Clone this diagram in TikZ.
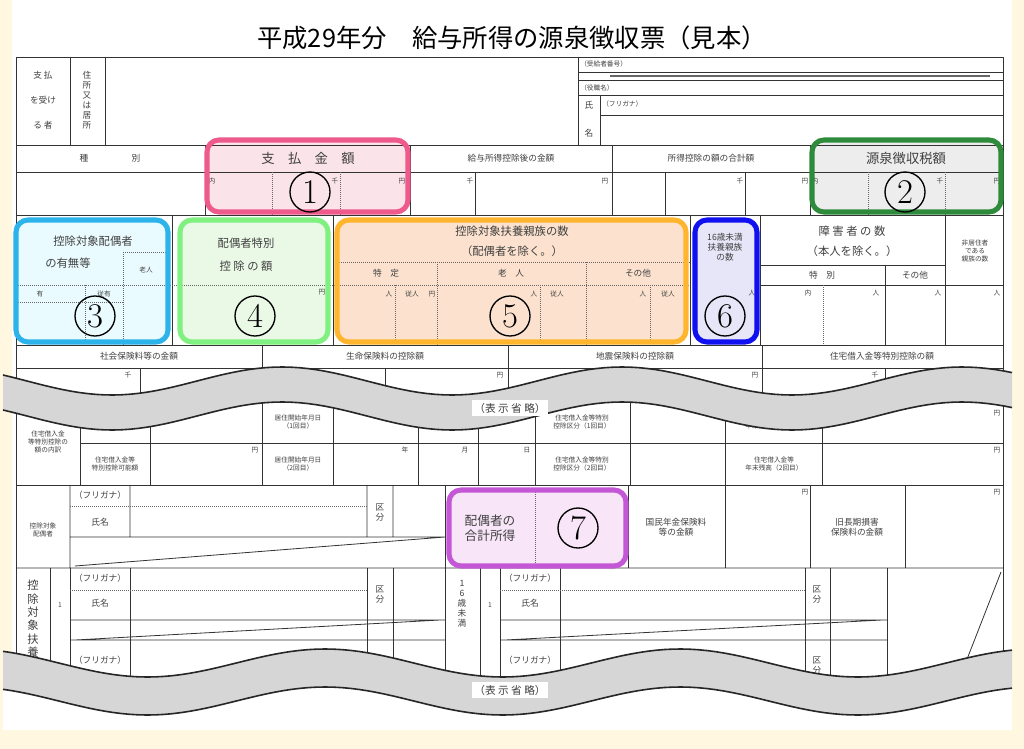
\documentclass[tikz,border=0pt]{standalone}
\usepackage{fontspec}
\newfontfamily\cjk{Noto Sans CJK JP}
\usetikzlibrary{positioning}

\definecolor{cream}{HTML}{FFF7DF}
\definecolor{pinkline}{HTML}{EE5A8C}
\definecolor{pinkfill}{HTML}{FBE3EA}
\definecolor{greenline}{HTML}{2E8B3C}
\definecolor{greenfill}{HTML}{EDEDED}
\definecolor{cyanline}{HTML}{2BB3EA}
\definecolor{cyanfill}{HTML}{EAFBFF}
\definecolor{lgline}{HTML}{80F080}
\definecolor{lgfill}{HTML}{EAF8E6}
\definecolor{orline}{HTML}{FFB52E}
\definecolor{orfill}{HTML}{FCE2CE}
\definecolor{blline}{HTML}{1010F0}
\definecolor{blfill}{HTML}{E6E6F8}
\definecolor{puline}{HTML}{C457D6}
\definecolor{pufill}{HTML}{F8E6F8}
\definecolor{band}{HTML}{D6D6D6}

\begin{document}
\begin{tikzpicture}[
    x = 0.75pt, y = -0.75pt,
    line join=round,
    formline/.style = {line width=0.6pt, black!80},
    dotline/.style = {line width=0.5pt, black!60, densely dotted},
    lbl/.style = {font=\cjk\fontsize{6.5}{7.5}\selectfont, inner sep=0pt, black!75, align=center},
    big/.style = {font=\cjk\fontsize{8.5}{10}\selectfont, inner sep=0pt, black!75, align=center},
    tiny/.style = {font=\cjk\fontsize{5}{6}\selectfont, inner sep=0pt, black!75, align=center},
    hilite/.style = {line width=3.8pt, rounded corners=9},
    numcircle/.style = {circle, draw, line width=1pt, inner sep=0pt, minimum size=30pt,
        font=\fontsize{26}{26}\selectfont},
    bandedge/.style = {line width=1.2pt, black!85}
]

    \useasboundingbox (0,0) rectangle (1024,749);
    \fill[cream] (0,0) rectangle (1024,749);
    \fill[white] (12,0) rectangle (1012,730);

    \node[font=\cjk\fontsize{19}{20}\selectfont] (title) at (512,38)
        {平成29年分\quad 給与所得の源泉徴収票（見本）};

    % highlight fills below the form lines
    \fill[pinkfill, rounded corners=9] (207,140) rectangle (408,212);
    \fill[greenfill, rounded corners=9] (812,140) rectangle (1001,212);
    \fill[cyanfill, rounded corners=9] (16,220) rectangle (168,342);
    \fill[lgfill, rounded corners=9] (180,220) rectangle (328,342);
    \fill[orfill, rounded corners=9] (337,220) rectangle (686,342);
    \fill[blfill, rounded corners=9] (695,220) rectangle (757,342);
    \fill[pufill, rounded corners=9] (449,490) rectangle (626,566);

    % form frame
    \draw[formline] (16,57) rectangle (1003,700);

    % row A
    \draw[formline] (70,57) -- (70,145) (105,57) -- (105,145) (578,57) -- (578,145);
    \draw[formline] (578,72) -- (1003,72) (578,80) -- (1003,80) (578,95) -- (1003,95)
        (600,115) -- (1003,115) (600,95) -- (600,145);
    \draw[line width=1pt, black!60] (610,76) -- (990,76);
    \node[lbl] (pay1) at (43,75) {支 払};
    \node[lbl] (pay2) at (43,100) {を受け};
    \node[lbl] (pay3) at (43,125) {る 者};
    \node[lbl] (addr) at (87,100) {住\\所\\又\\は\\居\\所};
    \node[tiny, anchor=west] (rno) at (580,64) {（受給者番号）};
    \node[tiny, anchor=west] (role) at (580,88) {（役職名）};
    \node[lbl] (nm1) at (589,105) {氏};
    \node[lbl] (nm2) at (589,133) {名};
    \node[tiny, anchor=west] (kana0) at (602,104) {（フリガナ）};

    % row B
    \draw[formline] (16,145) -- (1003,145) (16,172) -- (1003,172) (16,215) -- (1003,215);
    \foreach \xx in {205,410,612,810}
        \draw[formline] (\xx,145) -- (\xx,215);
    \foreach \xx in {475,665,745}
        \draw[formline] (\xx,172) -- (\xx,215);
    \foreach \xx in {272,340,868,945}
        \draw[dotline] (\xx,172) -- (\xx,215);
    \node[lbl] (kind) at (110,158) {種\hspace{5em}別};
    \node[font=\cjk\fontsize{10}{11}\selectfont, black!75] (h1) at (308,158) {支\quad 払\quad 金\quad 額};
    \node[lbl] (h2) at (511,158) {給与所得控除後の金額};
    \node[lbl] (h3) at (711,158) {所得控除の額の合計額};
    \node[font=\cjk\fontsize{10}{11}\selectfont, black!75] (h4) at (906,158) {源泉徴収税額};
    \foreach \xx/\tt in {212/内,335/千,402/円,470/千,605/円,740/千,805/円,815/内,940/千,997/円}
        \node[tiny] at (\xx,181) {\tt};

    % row C
    \draw[formline] (16,345) -- (1003,345);
    \foreach \xx in {172,333,690,760,945}
        \draw[formline] (\xx,215) -- (\xx,345);
    \node[big] (sp1) at (93,241) {控除対象配偶者};
    \node[big] (sp2) at (68,263) {の有無等};
    \draw[dotline] (123,252) -- (170,252) (123,252) -- (123,345) (16,285) -- (690,285)
        (16,302) -- (123,302) (85,285) -- (85,345);
    \node[tiny] at (146,270) {老人};
    \node[tiny] at (40,294) {有};
    \node[tiny] at (104,294) {従有};
    \node[big] (ss1) at (246,243) {配偶者特別};
    \node[big] (ss2) at (246,266) {控\ 除\ の\ 額};
    \node[tiny] at (322,292) {円};
    \node[big] (dep1) at (512,231) {控除対象扶養親族の数};
    \node[big] (dep2) at (512,251) {（配偶者を除く。）};
    \draw[dotline] (335,262) -- (690,262) (437,262) -- (437,345) (586,262) -- (586,345)
        (395,285) -- (395,345) (540,285) -- (540,345) (650,285) -- (650,345);
    \node[lbl] at (386,273) {特\quad 定};
    \node[lbl] at (511,273) {老\quad 人};
    \node[lbl] at (638,273) {その他};
    \foreach \xx/\tt in {389/人,412/従人,432/円,534/人,557/従人,643/人,668/従人}
        \node[tiny] at (\xx,294) {\tt};
    \node[lbl] (u16) at (725,247) {16歳未満\\扶養親族\\の数};
    \node[tiny] at (752,293) {人};
    \node[big] (dis1) at (852,231) {障\ 害\ 者\ の\ 数};
    \node[big] (dis2) at (852,251) {（本人を除く。）};
    \draw[formline] (760,265) -- (945,265) (760,285) -- (1003,285) (885,265) -- (885,345);
    \draw[dotline] (823,285) -- (823,345);
    \node[lbl] at (822,275) {特\quad 別};
    \node[lbl] at (915,275) {その他};
    \foreach \xx/\tt in {808/内,876/人,938/人,997/人}
        \node[tiny] at (\xx,293) {\tt};
    \node[tiny] (nonres) at (975,251) {非居住者\\である\\親族の数};

    % row D
    \draw[formline] (16,368) -- (1003,368);
    \foreach \xx in {262,508,762}
        \draw[formline] (\xx,345) -- (\xx,400);
    \foreach \xx in {140,385,630,885}
        \draw[formline] (\xx,368) -- (\xx,400);
    \node[lbl] at (139,356) {社会保険料等の金額};
    \node[lbl] at (385,356) {生命保険料の控除額};
    \node[lbl] at (635,356) {地震保険料の控除額};
    \node[lbl] at (882,356) {住宅借入金等特別控除の額};
    \foreach \xx/\tt in {128/千,255/円,500/円,755/円,875/千}
        \node[tiny] at (\xx,375) {\tt};

    % row E
    \draw[formline] (16,400) -- (1003,400) (80,443) -- (1003,443) (16,485) -- (1003,485);
    \foreach \xx in {80,150,262,333,535,630,725,822}
        \draw[formline] (\xx,400) -- (\xx,485);
    \foreach \xx in {418,478}
        \draw[formline] (\xx,400) -- (\xx,485);
    \node[tiny] at (48,442) {住宅借入金\\等特別控除の\\額の内訳};
    \node[tiny] at (115,422) {住宅借入金等\\特別控除適用数};
    \node[tiny] at (115,464) {住宅借入金等\\特別控除可能額};
    \node[tiny] at (298,422) {居住開始年月日\\（1回目）};
    \node[tiny] at (298,464) {居住開始年月日\\（2回目）};
    \node[tiny] at (255,450) {円};
    \node[tiny] at (405,450) {年};
    \node[tiny] at (465,450) {月};
    \node[tiny] at (527,450) {日};
    \node[tiny] at (582,422) {住宅借入金等特別\\控除区分（1回目）};
    \node[tiny] at (582,464) {住宅借入金等特別\\控除区分（2回目）};
    \node[tiny] at (774,422) {住宅借入金等\\年末残高（1回目）};
    \node[tiny] at (774,464) {住宅借入金等\\年末残高（2回目）};
    \node[tiny] at (997,413) {円};
    \node[tiny] at (997,450) {円};

    % row F
    \draw[formline] (16,568) -- (1003,568) (70,485) -- (70,568) (130,485) -- (130,537)
        (367,485) -- (367,537) (393,485) -- (393,537) (70,537) -- (445,537) (75,566) -- (445,537);
    \foreach \xx in {445,628,725,810,905}
        \draw[formline] (\xx,485) -- (\xx,568);
    \draw[dotline] (70,506) -- (367,506) (535,490) -- (535,566);
    \node[tiny] at (43,530) {控除対象\\配偶者};
    \node[lbl] at (100,495) {（フリガナ）};
    \node[lbl] at (100,522) {氏名};
    \node[lbl] at (380,512) {区\\分};
    \node[font=\cjk\fontsize{9.5}{11}\selectfont, black!75, align=center] (inc) at (490,528) {配偶者の\\合計所得};
    \node[lbl] at (676,527) {国民年金保険料\\等の金額};
    \node[lbl] at (857,527) {旧長期損害\\保険料の金額};
    \node[tiny] at (805,492) {円};
    \node[tiny] at (997,492) {円};

    % row G
    \foreach \xx in {50,70,130,367,393,445,480,500,560,805,830,887}
        \draw[formline] (\xx,568) -- (\xx,700);
    \draw[formline] (70,620) -- (445,620) (70,640) -- (445,640) (75,640) -- (440,620)
        (500,620) -- (887,620) (500,640) -- (887,640) (505,640) -- (882,620) (1001,572) -- (955,690);
    \draw[dotline] (70,590) -- (367,590) (500,590) -- (805,590);
    \node[big, anchor=north] at (33,580) {控\\除\\対\\象\\扶\\養};
    \node[tiny] at (60,605) {1};
    \node[tiny] at (490,605) {1};
    \node[lbl, anchor=north] at (462,580) {1\\6\\歳\\未\\満};
    \foreach \xx in {100,530}
    {
        \node[lbl] at (\xx,578) {（フリガナ）};
        \node[lbl] at (\xx,603) {氏名};
        \node[lbl] at (\xx,660) {（フリガナ）};
    }
    \node[lbl] at (380,594) {区\\分};
    \node[lbl] at (817,594) {区\\分};
    \node[lbl] at (380,665) {区\\分};
    \node[lbl] at (817,665) {区\\分};

    % highlight borders
    \draw[hilite, pinkline] (207,140) rectangle (408,212);
    \draw[hilite, greenline] (812,140) rectangle (1001,212);
    \draw[hilite, cyanline] (16,220) rectangle (168,342);
    \draw[hilite, lgline] (180,220) rectangle (328,342);
    \draw[hilite, orline] (337,220) rectangle (686,342);
    \draw[hilite, blline] (695,220) rectangle (757,342);
    \draw[hilite, puline] (449,490) rectangle (626,566);

    \node[numcircle] (n1) at (310,192) {1};
    \node[numcircle] (n2) at (905,192) {2};
    \node[numcircle] (n3) at (95,316) {3};
    \node[numcircle] (n4) at (255,316) {4};
    \node[numcircle] (n5) at (510,316) {5};
    \node[numcircle] (n6) at (725,316) {6};
    \node[numcircle] (n7) at (578,528) {7};

    % wavy bands
    \fill[band] plot[domain=3:1012, samples=120] (\x,{381-14*cos(1.0588*(\x-622))})
        -- plot[domain=1012:3, samples=120] (\x,{416-14*cos(1.0588*(\x-622))}) -- cycle;
    \draw[bandedge] plot[domain=3:1012, samples=120] (\x,{381-14*cos(1.0588*(\x-622))});
    \draw[bandedge] plot[domain=3:1012, samples=120] (\x,{416-14*cos(1.0588*(\x-622))});
    \node[lbl, fill=white, inner sep=2pt, font=\cjk\fontsize{8}{9}\selectfont] (omit1) at (510,408) {（表\ 示\ 省\ 略）};

    \fill[white] plot[domain=3:1012, samples=120] (\x,{701-14*cos(1.0141*(\x-680))})
        -- (1012,730) -- (3,730) -- cycle;
    \fill[band] plot[domain=3:1012, samples=120] (\x,{663-14*cos(1.0141*(\x-680))})
        -- plot[domain=1012:3, samples=120] (\x,{701-14*cos(1.0141*(\x-680))}) -- cycle;
    \draw[bandedge] plot[domain=3:1012, samples=120] (\x,{663-14*cos(1.0141*(\x-680))});
    \draw[bandedge] plot[domain=3:1012, samples=120] (\x,{701-14*cos(1.0141*(\x-680))});
    \node[lbl, fill=white, inner sep=2pt, font=\cjk\fontsize{8}{9}\selectfont] (omit2) at (510,690) {（表\ 示\ 省\ 略）};

\end{tikzpicture}
\end{document}
